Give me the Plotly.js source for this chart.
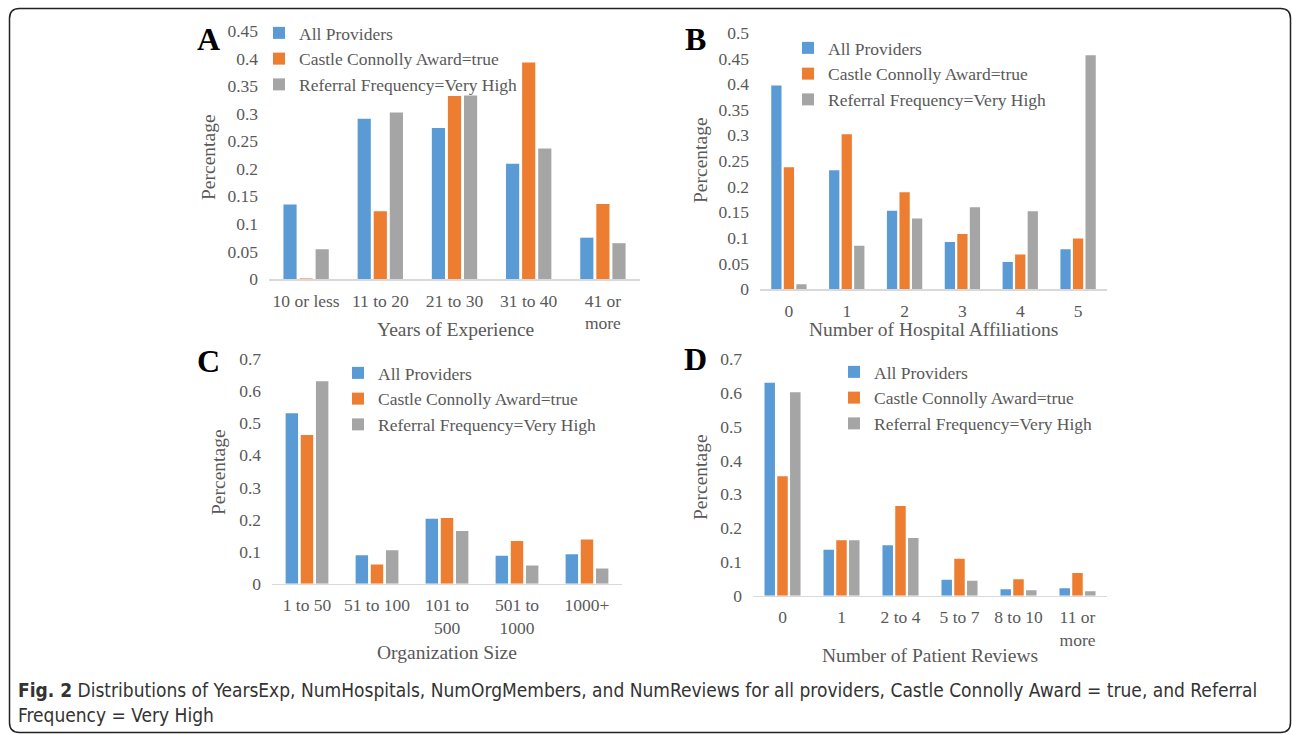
<!DOCTYPE html>
<html>
<head>
<meta charset="utf-8">
<script src="https://cdn.plot.ly/plotly-3.0.1.min.js"></script>
<style>
html,body{margin:0;padding:0;background:#fff;}
#chart{width:1292px;height:734px;}
</style>
</head>
<body>
<div id="chart"></div>
<script>
// ---- Data ----
const seriesNames = ["All Providers", "Castle Connolly Award=true", "Referral Frequency=Very High"];

const yearsCats = ["10 or less", "11 to 20", "21 to 30", "31 to 40", "41 or<br>more"];
const yearsAll = [0.135, 0.291, 0.274, 0.209, 0.075];
const yearsCastle = [0.001, 0.123, 0.332, 0.393, 0.136];
const yearsReferral = [0.054, 0.302, 0.333, 0.237, 0.065];

const hospCats = ["0", "1", "2", "3", "4", "5"];
const hospAll = [0.397, 0.232, 0.153, 0.092, 0.053, 0.078];
const hospCastle = [0.238, 0.302, 0.189, 0.108, 0.068, 0.099];
const hospReferral = [0.010, 0.085, 0.138, 0.160, 0.152, 0.456];

const orgCats = ["1 to 50", "51 to 100", "101 to<br>500", "501 to<br>1000", "1000+"];
const orgAll = [0.531, 0.089, 0.202, 0.087, 0.092];
const orgCastle = [0.463, 0.060, 0.205, 0.133, 0.138];
const orgReferral = [0.631, 0.104, 0.164, 0.057, 0.047];

const revCats = ["0", "1", "2 to 4", "5 to 7", "8 to 10", "11 or<br>more"];
const revAll = [0.630, 0.136, 0.149, 0.047, 0.019, 0.022];
const revCastle = [0.353, 0.164, 0.265, 0.109, 0.049, 0.067];
const revReferral = [0.602, 0.164, 0.171, 0.044, 0.016, 0.013];

const panelLetters = ["A", "B", "C", "D"];
const xTitles = ["Years of Experience", "Number of Hospital Affiliations", "Organization Size", "Number of Patient Reviews"];
const yTitle = "Percentage";
const captionBold = "Fig. 2";
const captionText = " Distributions of YearsExp, NumHospitals, NumOrgMembers, and NumReviews for all providers, Castle Connolly Award = true, and Referral<br>Frequency = Very High";

// ---- Styling / layout ----
const W = 1292, H = 734;
const colors = ["#5B9BD5", "#ED7D31", "#A5A5A5"];
const serif = "Liberation Serif, Times New Roman, serif";
const textGray = "#595959";
const px = x => x / W;
const py = y => 1 - y / H;

const panels = [
  {cats: yearsCats, vals: [yearsAll, yearsCastle, yearsReferral], xd: [269, 640], yd: [279, 31], range: [0, 0.4501], dtick: 0.05,
   legend: [259, 15], letter: [208, 39], xt: [455, 329], yt: [208, 157]},
  {cats: hospCats, vals: [hospAll, hospCastle, hospReferral], xd: [760, 1107], yd: [289.3, 32.7], range: [0, 0.5001], dtick: 0.05,
   legend: [788, 30], letter: [695, 39], xt: [933, 329], yt: [700, 160]},
  {cats: orgCats, vals: [orgAll, orgCastle, orgReferral], xd: [272, 622], yd: [583.7, 359], range: [0, 0.7001], dtick: 0.1,
   legend: [338, 355], letter: [208, 361], xt: [447, 652], yt: [219, 472]},
  {cats: revCats, vals: [revAll, revCastle, revReferral], xd: [753, 1107], yd: [595.7, 359], range: [0, 0.7001], dtick: 0.1,
   legend: [834, 354], letter: [695, 359], xt: [930, 655], yt: [700, 477]}
];

const data = [];
const layout = {
  width: W, height: H,
  margin: {l: 0, r: 0, t: 0, b: 0},
  paper_bgcolor: "#fff", plot_bgcolor: "rgba(0,0,0,0)",
  barmode: "group", bargap: 0.35, bargroupgap: 0.18,
  font: {family: serif, size: 17.5, color: textGray},
  annotations: [], shapes: []
};

panels.forEach((p, i) => {
  const sfx = i === 0 ? "" : String(i + 1);
  const legName = "legend" + sfx;
  p.vals.forEach((v, s) => {
    data.push({
      type: "bar", x: p.cats, y: v, name: seriesNames[s],
      xaxis: "x" + sfx, yaxis: "y" + sfx, legend: legName,
      marker: {color: colors[s]}, hoverinfo: "x+y+name"
    });
  });
  layout["xaxis" + sfx] = {
    domain: [px(p.xd[0]), px(p.xd[1])], anchor: "y" + sfx, type: "category",
    showline: true, linecolor: "#D9D9D9", linewidth: 1.5, showgrid: false, zeroline: false,
    ticks: "", tickfont: {family: serif, size: 17.5, color: textGray}, ticklabelstandoff: 5,
    fixedrange: true
  };
  layout["yaxis" + sfx] = {
    domain: [py(p.yd[0]), py(p.yd[1])], anchor: "x" + sfx, range: p.range,
    dtick: p.dtick, tick0: 0, showline: false, showgrid: false, zeroline: false,
    ticks: "", tickfont: {family: serif, size: 17.5, color: textGray}, ticklabelstandoff: 10,
    fixedrange: true
  };
  layout[legName] = {
    x: px(p.legend[0]), y: py(p.legend[1]), xanchor: "left", yanchor: "top",
    bgcolor: "rgba(0,0,0,0)", font: {family: serif, size: 17.5, color: textGray},
    itemwidth: 30, traceorder: "normal"
  };
  layout.annotations.push({
    xref: "paper", yref: "paper", x: px(p.letter[0]), y: py(p.letter[1]),
    text: "<b>" + panelLetters[i] + "</b>", showarrow: false,
    font: {family: serif, size: 32, color: "#000"}, xanchor: "center", yanchor: "middle"
  });
  layout.annotations.push({
    xref: "paper", yref: "paper", x: px(p.xt[0]), y: py(p.xt[1]),
    text: xTitles[i], showarrow: false,
    font: {family: serif, size: 19.5, color: textGray}, xanchor: "center", yanchor: "middle"
  });
  layout.annotations.push({
    xref: "paper", yref: "paper", x: px(p.yt[0]), y: py(p.yt[1]),
    text: yTitle, showarrow: false, textangle: -90,
    font: {family: serif, size: 19.5, color: textGray}, xanchor: "center", yanchor: "middle"
  });
});

// caption
layout.annotations.push({
  xref: "paper", yref: "paper", x: px(16), y: py(677), xanchor: "left", yanchor: "top",
  align: "left", showarrow: false,
  text: "<b>" + captionBold + "</b>" + captionText,
  font: {family: "Liberation Sans Narrow, DejaVu Sans Condensed, Open Sans, sans-serif", size: 19, color: "#333"}
});

// rounded frame
(function () {
  const x0 = px(9.5), x1 = px(1290.5), y0 = py(8.5), y1 = py(732.5);
  const rx = 10 / W, ry = 10 / H;
  const path = `M ${x0 + rx},${y0} L ${x1 - rx},${y0} Q ${x1},${y0} ${x1},${y0 - ry} L ${x1},${y1 + ry} Q ${x1},${y1} ${x1 - rx},${y1} L ${x0 + rx},${y1} Q ${x0},${y1} ${x0},${y1 + ry} L ${x0},${y0 - ry} Q ${x0},${y0} ${x0 + rx},${y0} Z`;
  layout.shapes.push({type: "path", xref: "paper", yref: "paper", path: path, line: {color: "#222", width: 1.5}, layer: "below"});
})();

Plotly.newPlot("chart", data, layout, {displayModeBar: false, staticPlot: true});
</script>
</body>
</html>
